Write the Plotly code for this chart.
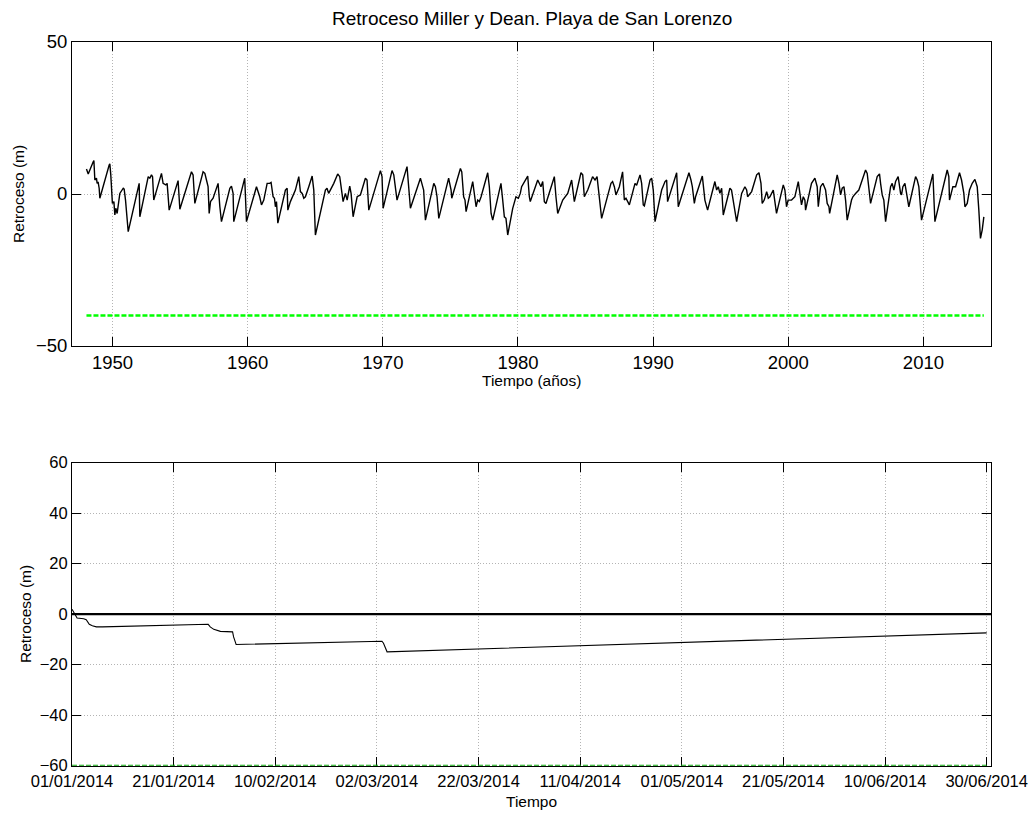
import pandas as pd
import plotly.graph_objects as go

# ---------------- data ----------------
chart_title = "Retroceso Miller y Dean. Playa de San Lorenzo"

# Top panel: shoreline retreat (m) vs. time (years)
top_years = [
    1948.07, 1948.20, 1948.57, 1948.62, 1948.69, 1948.81, 1948.86, 1948.93, 1949.01, 1949.06,
    1949.75, 1949.80, 1949.87, 1949.92, 1949.99, 1950.10, 1950.17, 1950.24, 1950.34, 1950.54,
    1950.79, 1950.86, 1950.96, 1951.16, 1951.97, 1952.02, 1952.64, 1952.76, 1952.88, 1952.96,
    1953.05, 1953.62, 1953.74, 1953.94, 1954.04, 1954.19, 1954.85, 1954.98, 1955.84, 1955.96,
    1956.09, 1956.70, 1956.83, 1956.95, 1957.07, 1957.15, 1957.25, 1957.44, 1957.69, 1957.81,
    1957.94, 1958.06, 1958.68, 1958.80, 1958.92, 1958.97, 1959.78, 1959.91, 1960.65, 1960.89,
    1961.02, 1961.19, 1961.44, 1961.63, 1961.73, 1961.81, 1961.88, 1961.98, 1962.05, 1962.13,
    1962.23, 1962.79, 1962.92, 1962.97, 1963.16, 1963.53, 1963.78, 1963.90, 1964.03, 1964.15,
    1964.27, 1964.52, 1964.77, 1964.89, 1965.01, 1965.75, 1965.87, 1965.99, 1966.37, 1966.66,
    1966.81, 1966.91, 1967.06, 1967.23, 1967.36, 1967.55, 1967.65, 1967.80, 1968.10, 1968.34,
    1968.59, 1968.71, 1968.83, 1968.96, 1969.82, 1969.94, 1970.02, 1970.68, 1970.81, 1970.93,
    1971.05, 1971.79, 1971.92, 1972.04, 1972.78, 1972.90, 1973.02, 1973.15, 1973.77, 1973.89,
    1974.01, 1974.14, 1974.87, 1974.92, 1975.05, 1975.10, 1975.74, 1975.84, 1975.98, 1976.08,
    1976.16, 1976.65, 1976.77, 1976.90, 1977.02, 1977.14, 1977.27, 1977.76, 1977.88, 1978.01,
    1978.13, 1978.74, 1978.87, 1978.99, 1979.11, 1979.24, 1979.61, 1979.85, 1980.03, 1980.17,
    1980.27, 1980.42, 1980.72, 1980.84, 1980.91, 1981.46, 1981.58, 1981.70, 1981.83, 1981.95,
    1982.07, 1982.69, 1982.81, 1982.94, 1983.31, 1983.68, 1983.97, 1984.17, 1984.66, 1984.79,
    1984.91, 1985.16, 1985.52, 1985.70, 1985.85, 1986.02, 1986.19, 1986.88, 1987.00, 1987.13,
    1987.25, 1987.50, 1987.74, 1987.87, 1987.99, 1988.24, 1988.56, 1988.66, 1988.78, 1989.03,
    1989.15, 1989.27, 1989.35, 1989.77, 1989.89, 1990.01, 1990.14, 1990.63, 1990.88, 1991.00,
    1991.07, 1991.49, 1991.74, 1991.86, 1992.23, 1992.48, 1992.65, 1992.80, 1992.90, 1993.05,
    1993.14, 1993.64, 1993.71, 1993.83, 1994.03, 1994.57, 1994.70, 1994.82, 1994.94, 1995.07,
    1995.19, 1995.68, 1995.80, 1995.93, 1996.18, 1996.55, 1996.79, 1996.92, 1996.99, 1997.29,
    1997.66, 1997.83, 1997.98, 1998.07, 1998.22, 1998.40, 1998.52, 1998.64, 1998.89, 1999.13,
    1999.63, 1999.75, 1999.87, 1999.99, 2000.24, 2000.49, 2000.74, 2000.86, 2000.98, 2001.11,
    2001.23, 2001.28, 2001.72, 2001.97, 2002.14, 2002.22, 2002.39, 2002.56, 2002.76, 2002.88,
    2003.01, 2003.06, 2003.62, 2003.75, 2003.87, 2003.99, 2004.12, 2004.24, 2004.36, 2004.68,
    2004.78, 2004.98, 2005.22, 2005.47, 2005.72, 2005.84, 2005.97, 2006.09, 2006.58, 2006.75,
    2006.83, 2006.95, 2007.07, 2007.20, 2007.57, 2007.69, 2007.81, 2007.94, 2008.13, 2008.23,
    2008.31, 2008.38, 2008.48, 2008.63, 2008.80, 2008.92, 2009.42, 2009.54, 2009.66, 2009.86,
    2010.70, 2010.85, 2011.76, 2011.88, 2011.93, 2012.18, 2012.38, 2012.67, 2012.82, 2012.99,
    2013.07, 2013.24, 2013.41, 2013.61, 2013.81, 2013.98, 2014.10, 2014.15, 2014.22, 2014.35,
    2014.47,
]
top_retroceso = [
    8.2, 6.6, 10.6, 11.0, 4.6, 5.2, 3.5, 4.0, 1.9, -1.4,
    9.5, 9.9, 6.3, -0.9, -3.1, -2.5, -6.9, -4.7, -6.4, 0.2,
    1.9, 1.6, -2.0, -12.4, 3.5, -7.5, 5.7, 5.2, 6.3, 5.7,
    -2.0, 6.8, 3.5, 3.0, 3.5, -5.3, 4.4, -5.0, 7.3, 6.3,
    -3.1, 7.3, 6.8, 4.6, 2.4, -6.4, -2.5, -1.4, 1.9, 3.5,
    -4.2, -9.1, 1.9, 2.6, 0.2, -9.1, 5.2, -9.1, 2.4, -0.9,
    -3.6, -2.0, 3.5, 3.5, 3.8, 1.3, -0.9, -1.4, -4.2, -2.5,
    -9.6, 1.3, 1.9, -5.3, -2.5, 1.3, 5.7, 0.8, 0.2, -1.4,
    -0.9, 2.4, 5.9, 1.3, -13.5, 1.3, 1.9, 0.2, 3.5, 6.6,
    5.7, 2.4, -2.5, 0.2, -2.0, 2.6, 0.2, -7.5, -0.9, -0.3,
    4.1, 5.2, 4.6, -5.3, 7.7, 5.7, -4.7, 7.7, 6.3, 2.4,
    -2.0, 9.0, 1.9, -4.7, 5.2, 3.5, 1.3, -8.6, 3.5, 2.4,
    -0.9, -8.0, 5.2, 4.1, 1.3, -1.4, 8.4, 7.3, -0.9, -2.0,
    -5.8, 4.1, -0.9, -4.2, -2.0, -2.5, -0.9, 7.0, 2.4, -6.4,
    -8.6, 3.5, -2.0, -7.5, -8.0, -13.5, -4.7, -0.9, -1.4, 0.2,
    2.4, 3.5, 5.9, -0.9, -2.5, 4.6, 3.5, 2.4, 4.1, -2.5,
    -3.1, 5.7, -0.9, -6.4, -2.0, 0.2, 4.6, -2.5, 7.0, 6.3,
    -0.9, 1.3, 5.7, 4.6, 5.7, -0.9, -8.0, 3.5, 4.1, 2.4,
    -0.3, 2.4, 7.3, -2.0, -1.4, -3.6, 1.9, 3.5, 2.9, 6.3,
    3.5, -3.6, -3.9, 4.6, 5.2, 1.3, -9.1, 1.3, 4.1, 4.6,
    -2.5, 3.5, 7.0, -4.2, 0.8, 4.6, 7.0, 4.6, 2.4, -3.1,
    -0.9, 5.9, 3.5, -2.0, -5.3, 4.1, 1.3, 2.4, 0.2, 1.9,
    -6.9, 1.9, 1.3, -2.0, -9.1, 0.2, 2.4, 1.3, -0.9, 0.8,
    6.3, 7.0, 3.5, -3.1, -2.0, 0.8, -1.4, -0.9, 1.3, -6.4,
    3.0, 1.3, -4.2, -2.0, -2.0, -0.9, 4.1, 0.2, -3.6, -0.9,
    -2.0, -5.3, 3.5, 5.2, 2.4, -4.2, 2.4, 3.5, 1.3, -3.1,
    -4.2, -6.4, 6.3, 3.5, -0.3, 1.9, 2.4, -2.0, -8.6, -2.0,
    -0.9, 0.2, 1.3, 4.6, 7.9, 6.8, 0.2, -3.1, 5.7, 6.6,
    3.5, -0.3, -2.0, -9.1, 2.4, 3.5, 1.3, 4.1, 5.7, 2.4,
    0.2, -0.3, 2.4, 3.5, -2.0, -4.2, 5.7, 4.6, 2.4, -8.6,
    6.6, -9.1, 7.9, 5.7, -2.0, 2.4, 2.4, 7.0, 4.6, 0.2,
    -4.2, -3.1, 1.3, 3.5, 4.8, 2.4, -5.3, -10.7, -14.6, -11.8,
    -7.5,
]
top_limit = -40.0
top_xticks = [1950, 1960, 1970, 1980, 1990, 2000, 2010]
top_yticks = [-50, 0, 50]

# Bottom panel: first half of 2014 (days since 01/01/2014)
bottom_start = "2014-01-01"
bottom_days = [0.0, 0.3, 0.6, 1.0, 2.3, 2.8, 3.4, 4.0, 4.8, 6.0,
               26.8, 27.2, 27.9, 29.2, 31.6, 31.8, 32.3, 61.0, 61.3, 62.0, 180.0]
bottom_retroceso = [2.0, 1.0, 0.0, -1.5, -1.8, -2.2, -4.0, -4.6, -5.0, -5.0,
                    -4.0, -5.0, -6.0, -6.8, -7.0, -9.0, -12.0, -10.7, -11.5, -14.9, -7.4]
bottom_limit = -60.0
bottom_reference = 0.0
bottom_tick_days = [0, 20, 40, 60, 80, 100, 120, 140, 160, 180]
bottom_yticks = [-60, -40, -20, 0, 20, 40, 60]

# ---------------- figure ----------------
W, H = 1030, 814
FONT = "Liberation Sans, Arial, Helvetica, sans-serif"
GREEN = "#00ff00"
GRID = "#b4b4b4"

t0 = pd.Timestamp(bottom_start)
bottom_dates = [t0 + pd.Timedelta(days=d) for d in bottom_days]
bottom_tickvals = [t0 + pd.Timedelta(days=d) for d in bottom_tick_days]

fig = go.Figure()

fig.add_trace(go.Scatter(x=top_years, y=top_retroceso, mode="lines",
                         line=dict(color="black", width=1.4), xaxis="x", yaxis="y"))
fig.add_trace(go.Scatter(x=[top_years[0], top_years[-1]], y=[top_limit, top_limit], mode="lines",
                         line=dict(color=GREEN, width=2.5, dash="5px,2px"), xaxis="x", yaxis="y"))

fig.add_trace(go.Scatter(x=bottom_dates, y=bottom_retroceso, mode="lines",
                         line=dict(color="black", width=1.1), xaxis="x2", yaxis="y2"))
fig.add_trace(go.Scatter(x=[bottom_dates[0], bottom_dates[-1]], y=[bottom_limit, bottom_limit],
                         mode="lines", line=dict(color="#11aa11", width=2, dash="5px,2px"),
                         xaxis="x2", yaxis="y2"))
fig.add_shape(type="line", xref="x2 domain", x0=0, x1=1, yref="y2",
              y0=bottom_reference, y1=bottom_reference, line=dict(color="black", width=2.2))

x0, x1 = 72 / W, 991 / W
top_dom = [1 - 346 / H, 1 - 42 / H]
bot_dom = [1 - 765.7 / H, 1 - 462.7 / H]

common = dict(ticks="inside", ticklen=9, tickwidth=1, tickcolor="black",
              showline=True, linecolor="black", linewidth=1, mirror="allticks",
              showgrid=True, gridcolor=GRID, griddash="1px,2px", gridwidth=1,
              zeroline=False, layer="below traces", automargin=False)

fig.update_layout(
    template="none",
    width=W, height=H,
    margin=dict(l=0, r=0, t=0, b=0, pad=0),
    paper_bgcolor="white", plot_bgcolor="white",
    showlegend=False,
    font=dict(family=FONT, color="black"),
    xaxis=dict(domain=[x0, x1], anchor="y", range=[1947, 2015], tickvals=top_xticks,
               tickfont=dict(size=18.5), **common),
    yaxis=dict(domain=top_dom, anchor="x", range=[-50, 50], tickvals=top_yticks,
               tickfont=dict(size=18.5), **common),
    xaxis2=dict(domain=[x0, x1], anchor="y2", type="date",
                range=[t0, t0 + pd.Timedelta(days=180.85)], tickvals=bottom_tickvals,
                tickformat="%d/%m/%Y", tickfont=dict(size=16.5), **common),
    yaxis2=dict(domain=bot_dom, anchor="x2", range=[-60, 60], tickvals=bottom_yticks,
                tickfont=dict(size=16.5), **common),
)

cx = (72 + 991) / 2 / W
annots = [
    dict(text=chart_title, x=cx, y=1 - 19 / H, font=dict(size=19)),
    dict(text="Tiempo (años)", x=cx, y=1 - 380 / H, font=dict(size=15.5)),
    dict(text="Retroceso (m)", x=18 / W, y=1 - 194 / H, textangle=-90, font=dict(size=15.5)),
    dict(text="Tiempo", x=cx, y=1 - 801 / H, font=dict(size=15.5)),
    dict(text="Retroceso (m)", x=25 / W, y=1 - 614 / H, textangle=-90, font=dict(size=15.5)),
]
for a in annots:
    fig.add_annotation(xref="paper", yref="paper", showarrow=False,
                       xanchor="center", yanchor="middle", **a)

fig.write_html(
    "out.html",
    config={"displayModeBar": False},
    post_script="document.body.style.margin='0';document.body.style.overflow='hidden';",
)
